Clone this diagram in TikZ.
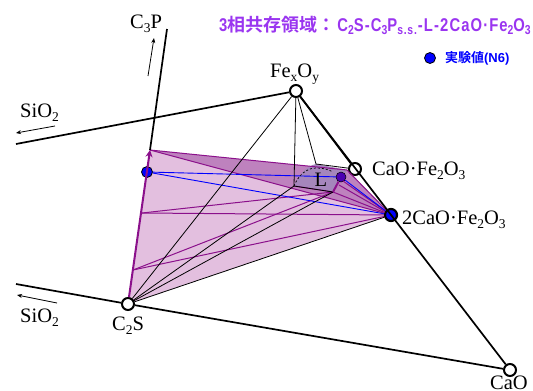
\documentclass[tikz,border=0pt]{standalone}
\usepackage{fontspec}
\setmainfont{Liberation Serif}
\newfontfamily\cjkgoth{Noto Sans CJK JP}[BoldFont={* Bold}]
\newfontfamily\latingoth[FakeStretch=0.8,LetterSpace=6]{Liberation Sans}
\usepackage{tikz}
\usetikzlibrary{arrows, arrows.meta, positioning}
\definecolor{paleregion}{HTML}{E3BFDF}
\definecolor{darkregion}{HTML}{BE82BE}
\definecolor{liquidregion}{HTML}{A586BC}
\definecolor{tieline}{HTML}{8B108B}
\definecolor{titlepurple}{HTML}{9A35F0}
\newcommand{\phsub}[1]{\raisebox{-4pt}{\fontsize{13.5}{14}\selectfont #1}}
\newcommand{\ttsub}[1]{\raisebox{-3.5pt}{\fontsize{13}{14}\selectfont\latingoth\bfseries #1}}
\newcommand{\ttlat}[1]{{\fontsize{18.5}{19}\selectfont\latingoth\bfseries #1}}
\tikzset{
  phase/.style={circle, draw=black, line width=2pt, fill=white, inner sep=0pt, minimum size=12pt},
  bluepoint/.style={circle, draw=black, line width=0.8pt, fill=blue, inner sep=0pt, minimum size=11pt},
  liquidpoint/.style={circle, draw=black, line width=0.5pt, fill=blue!60!purple, inner sep=0pt, minimum size=10pt},
  phaselabel/.style={font=\fontsize{20.5}{22}\selectfont, inner sep=0pt},
  boundary/.style={draw=black, line width=1.7pt},
  joinline/.style={draw=black, line width=0.8pt},
  tie/.style={draw=tieline, line width=1pt},
  measured/.style={draw=blue, line width=0.9pt},
  trend/.style={draw=black, line width=0.8pt, -{Stealth[length=5pt,width=4pt]}}
}
\begin{document}
\begin{tikzpicture}[x=1pt,y=-1pt]
\useasboundingbox (0,0) rectangle (533,391);
\coordinate (cptop) at (150,150);
\coordinate (edgea) at (142,213);
\coordinate (edgeb) at (133,270);
\coordinate (cornerc) at (347,170);
\coordinate (cornerl) at (294,186);
\coordinate (cornerm) at (316,164);
\coordinate (corners) at (333,192);
\coordinate (cfcentre) at (391,215);
\coordinate (cscentre) at (128,304);
% regions
\fill[paleregion] (cptop) -- (cscentre) -- (cfcentre) -- cycle;
\fill[darkregion] (cptop) -- (cornerc) -- (cfcentre) -- cycle;
\fill[liquidregion] (cornerl) .. controls (298,176) and (306,166) .. (cornerm) -- (cornerc) -- (corners) -- cycle;
% points
\node[phase] (fexoy) at (296,91) {};
\node[phase] (cf) at (355,169) {};
\node[bluepoint, line width=2.2pt, minimum size=12pt] (ctwof) at (cfcentre) {};
\node[phase] (cs) at (cscentre) {};
\node[phase] (cao) at (510,370) {};
\node[bluepoint] (bluep) at (147,172) {};
\node[liquidpoint] (liquid) at (341,177) {};
% free ends
\coordinate (siotop) at (16,144);
\coordinate (siolow) at (16,284);
\coordinate (cpend) at (167,29);
% tie lines
\draw[tie] (cptop) -- (cornerc);
\draw[tie] (cptop) -- (ctwof);
\draw[tie] (cornerc) -- (ctwof);
\draw[tie] (edgea) -- (corners);
\draw[tie] (edgea) -- (ctwof);
\draw[tie] (edgeb) -- (corners);
\draw[tie] (edgeb) -- (ctwof);
\draw[tie] (corners) -- (ctwof);
\draw[tie] (cornerl) -- (corners);
\draw[tie] (339,185) -- (ctwof);
\draw[tie] (343,181) -- (ctwof);
\draw[measured] (bluep) -- (liquid);
\draw[measured] (bluep) -- (ctwof);
\draw[measured] (liquid) -- (ctwof);
% joins
\draw[joinline] (cs) -- (fexoy);
\draw[joinline] (cs) -- (cornerl);
\draw[joinline] (cs) -- (corners);
\draw[joinline] (cs) -- (ctwof);
\draw[joinline] (fexoy) -- (cornerl);
\draw[joinline] (fexoy) -- (cornerm);
\draw[joinline] (cornerm) -- (cf);
\draw[joinline] (cornerl) -- (corners);
\draw[black, line width=0.7pt, dash pattern=on 2pt off 2pt] (cornerl) .. controls (298,176) and (306,168) .. (316,168) .. controls (322,168) and (328,169) .. (333,172);
% main lines
\draw[boundary] (fexoy) -- (cao);
\draw[boundary] (fexoy) -- (cf);
\draw[boundary] (siotop) -- (fexoy);
\draw[boundary] (siolow) -- (cs);
\draw[boundary] (cs) -- (cao);
\draw[boundary] (cpend) -- (cptop);
\draw[draw=tieline, line width=2pt, -{Stealth[length=7pt,width=7pt]}] (cs) -- (cptop);
\draw[draw=tieline, line width=2pt] (corners) -- (liquid);
% trend arrows
\coordinate (arrowa) at (55,126);
\coordinate (arrowb) at (16,133);
\coordinate (arrowc) at (57,303);
\coordinate (arrowd) at (17,295);
\coordinate (arrowe) at (148,76);
\coordinate (arrowf) at (154,38);
\draw[trend] (arrowa) -- (arrowb);
\draw[trend] (arrowc) -- (arrowd);
\draw[trend] (arrowe) -- (arrowf);
% labels
\node[phaselabel, anchor=base west] (cplabel) at (130,28) {C\phsub{3}P};
\node[phaselabel, anchor=base west] (feoxlabel) at (270,77) {Fe\phsub{x}O\phsub{y}};
\node[phaselabel, anchor=base west] (cflabel) at (372,175) {CaO\textperiodcentered Fe\phsub{2}O\phsub{3}};
\node[phaselabel, anchor=base west] (ctwoflabel) at (402,224) {2CaO\textperiodcentered Fe\phsub{2}O\phsub{3}};
\node[phaselabel, anchor=base west] (sioa) at (20,117) {SiO\phsub{2}};
\node[phaselabel, anchor=base west] (siob) at (20,322) {SiO\phsub{2}};
\node[phaselabel, anchor=base west] (cslabel) at (112,330) {C\phsub{2}S};
\node[phaselabel, anchor=base west] (caolabel) at (490,389) {CaO};
\node[phaselabel, anchor=center] (llabel) at (321,180) {L};
\node[anchor=base west, inner sep=0pt, text=titlepurple, font=\cjkgoth\bfseries\fontsize{18}{19}\selectfont] (title) at (219,31) {\ttlat{3}相共存領域：\hspace{2pt}\ttlat{C}\ttsub{2}\ttlat{S-C}\ttsub{3}\ttlat{P}\ttsub{s.s.}\hspace{1pt}\ttlat{-L-2CaO\textperiodcentered Fe}\ttsub{2}\ttlat{O}\ttsub{3}};
\node[bluepoint] (legenddot) at (430,58) {};
\node[right=9pt of legenddot, inner sep=0pt, text=blue, font=\cjkgoth\bfseries\fontsize{13}{14}\selectfont] (legendtext) {実験値{\fontsize{13}{14}\selectfont\fontspec{Liberation Sans}\bfseries (N6)}};
\end{tikzpicture}
\end{document}
